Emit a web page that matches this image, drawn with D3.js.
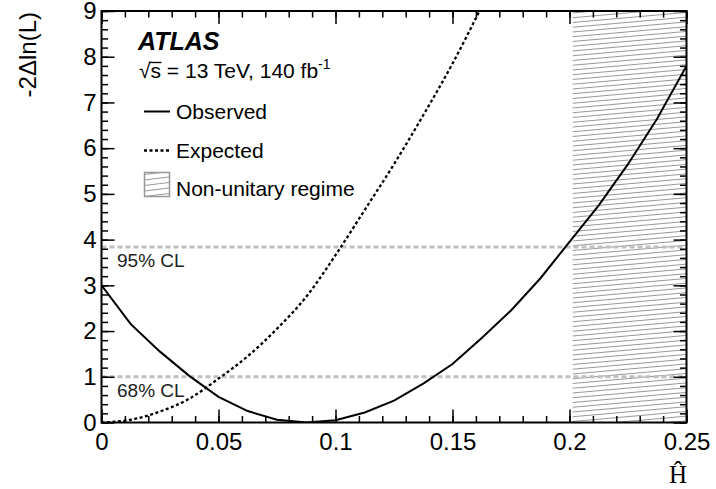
<!DOCTYPE html>
<html>
<head>
<meta charset="utf-8">
<script src="https://cdn.jsdelivr.net/npm/d3@7"></script>
<style>
  body { margin: 0; background: #fff; }
  text { font-family: "Liberation Sans", Arial, sans-serif; }
</style>
</head>
<body>
<script>
// Scan points of the likelihood curves.
var xObserved = [0, 0.0125, 0.025, 0.0375, 0.05, 0.0625, 0.075, 0.0875, 0.1, 0.1125, 0.125,
                 0.1375, 0.15, 0.1625, 0.175, 0.1875, 0.2, 0.2125, 0.225, 0.2375, 0.25];
var yObserved = [3.0, 2.15, 1.55, 1.02, 0.56, 0.25, 0.06, 0.0, 0.05, 0.22, 0.48,
                 0.85, 1.28, 1.85, 2.45, 3.15, 3.95, 4.75, 5.65, 6.65, 7.8];
var xExpected = [0, 0.0125, 0.025, 0.0375, 0.05, 0.0625, 0.075, 0.0875, 0.1, 0.1125, 0.125,
                 0.1375, 0.15, 0.1625];
var yExpected = [0, 0.06, 0.24, 0.52, 0.96, 1.45, 2.05, 2.75, 3.66, 4.65, 5.65,
                 6.72, 7.85, 9.1];
var clLevels = [1, 3.84];
var clLabels = ["68% CL", "95% CL"];
var nonUnitary = [0.2, 0.25];
var xTicks = [0, 0.05, 0.1, 0.15, 0.2, 0.25];
var yTicks = [0, 1, 2, 3, 4, 5, 6, 7, 8, 9];

var W = 716, H = 489;
var margin = {top: 11, right: 29.5, bottom: 66.5, left: 101.5};
var width = W - margin.left - margin.right;
var height = H - margin.top - margin.bottom;

var svg = d3.select("body").append("svg")
    .attr("width", W)
    .attr("height", H);

var defs = svg.append("defs");

defs.append("clipPath").attr("id", "plotclip")
    .append("rect")
    .attr("width", width)
    .attr("height", height);

// Draw shallow hatch lines inside a box (x, y, w, h), clipped to it.
function hatchBox(parent, id, bx, by, bw, bh, step, rise) {
    defs.append("clipPath").attr("id", id)
        .append("rect")
        .attr("x", bx).attr("y", by)
        .attr("width", bw).attr("height", bh);
    var starts = d3.range(by + 2, by + bh + rise + step, step);
    parent.append("g")
        .attr("clip-path", "url(#" + id + ")")
        .selectAll("line")
        .data(starts)
        .join("line")
        .attr("x1", bx).attr("x2", bx + bw)
        .attr("y1", d => d).attr("y2", d => d - rise * bw / 113)
        .attr("stroke", "#8c8c8c")
        .attr("stroke-width", 0.9);
}

var g = svg.append("g")
    .attr("transform", "translate(" + margin.left + "," + margin.top + ")");

var x = d3.scaleLinear().domain([0, 0.25]).range([0, width]);
var y = d3.scaleLinear().domain([0, 9]).range([height, 0]);

// Hatched non-unitary region.
hatchBox(g, "hatchclip", x(nonUnitary[0]) + 3, 0,
         x(nonUnitary[1]) - x(nonUnitary[0]) - 3, height, 4.75, 10);

// Confidence level lines.
g.selectAll(".cl")
    .data(clLevels)
    .join("line")
    .attr("class", "cl")
    .attr("x1", 0)
    .attr("x2", width)
    .attr("y1", d => y(d))
    .attr("y2", d => y(d))
    .attr("stroke", "#c0c0c0")
    .attr("stroke-width", 3)
    .attr("stroke-dasharray", "5,3");

g.selectAll(".cllabel")
    .data(clLevels)
    .join("text")
    .attr("class", "cllabel")
    .attr("x", 15.5)
    .attr("y", d => y(d) + 20)
    .attr("font-size", 19)
    .attr("fill", "#222")
    .text((d, i) => clLabels[i]);

// Curves.
var plot = g.append("g").attr("clip-path", "url(#plotclip)");

var obsLine = d3.line()
    .x(d => x(d[0]))
    .y(d => y(d[1]));

var expLine = d3.line()
    .x(d => x(d[0]))
    .y(d => y(d[1]))
    .curve(d3.curveMonotoneX);

plot.append("path")
    .datum(d3.zip(xExpected, yExpected))
    .attr("d", expLine)
    .attr("fill", "none")
    .attr("stroke", "#000")
    .attr("stroke-width", 2.3)
    .attr("stroke-dasharray", "3,2.5");

plot.append("path")
    .datum(d3.zip(xObserved, yObserved))
    .attr("d", obsLine)
    .attr("fill", "none")
    .attr("stroke", "#000")
    .attr("stroke-width", 2);

// Axes: major and minor ticks on all four sides, pointing inwards.
var xMinor = d3.range(0, 0.2501, 0.01);
var yMinor = d3.range(0, 9.001, 0.2);

function styleAxis(sel) {
    sel.select(".domain").remove();
    sel.selectAll("line").attr("stroke", "#000").attr("stroke-width", 1.5);
    sel.selectAll("text").attr("font-size", 24).attr("fill", "#000")
        .attr("font-family", "Liberation Sans, Arial, sans-serif");
}

g.append("g").attr("transform", "translate(0," + height + ")")
    .call(d3.axisBottom(x).tickValues(xMinor).tickSize(-6.5).tickFormat(""))
    .call(styleAxis);
g.append("g").attr("transform", "translate(0," + height + ")")
    .call(d3.axisBottom(x).tickValues(xTicks).tickSize(-13).tickPadding(10)
        .tickFormat(d3.format("~g")))
    .call(styleAxis);

g.append("g")
    .call(d3.axisTop(x).tickValues(xMinor).tickSize(-6.5).tickFormat(""))
    .call(styleAxis);
g.append("g")
    .call(d3.axisTop(x).tickValues(xTicks).tickSize(-13).tickFormat(""))
    .call(styleAxis);

g.append("g")
    .call(d3.axisLeft(y).tickValues(yMinor).tickSize(-6.5).tickFormat(""))
    .call(styleAxis);
g.append("g")
    .call(d3.axisLeft(y).tickValues(yTicks).tickSize(-13).tickPadding(5)
        .tickFormat(d3.format("d")))
    .call(styleAxis);

g.append("g").attr("transform", "translate(" + width + ",0)")
    .call(d3.axisRight(y).tickValues(yMinor).tickSize(-6.5).tickFormat(""))
    .call(styleAxis);
g.append("g").attr("transform", "translate(" + width + ",0)")
    .call(d3.axisRight(y).tickValues(yTicks).tickSize(-13).tickFormat(""))
    .call(styleAxis);

// Frame.
g.append("rect")
    .attr("width", width)
    .attr("height", height)
    .attr("fill", "none")
    .attr("stroke", "#000")
    .attr("stroke-width", 2);

// Axis titles.
svg.append("text")
    .attr("transform", "translate(36,12) rotate(-90)")
    .attr("text-anchor", "end")
    .attr("font-size", 24)
    .text("-2\u0394ln(L)");

svg.append("text")
    .attr("x", 687)
    .attr("y", 483)
    .attr("text-anchor", "end")
    .attr("font-size", 25)
    .style("font-family", "'Liberation Serif', 'Times New Roman', serif")
    .text("\u0124");

// ATLAS label and energy / luminosity.
svg.append("text")
    .attr("x", 138)
    .attr("y", 50)
    .attr("font-size", 25)
    .attr("font-weight", "bold")
    .attr("font-style", "italic")
    .text("ATLAS");

var lumi = svg.append("text")
    .attr("x", 139)
    .attr("y", 78)
    .attr("font-size", 21);
lumi.append("tspan").text("\u221A");
lumi.append("tspan").attr("class", "sqrts").text("s");
lumi.append("tspan").text(" = 13 TeV, 140 fb");
lumi.append("tspan").attr("dy", -9).attr("font-size", 14).text("-1");

// Overbar of the square root over the s.
var sNode = lumi.select(".sqrts").node();
var sStart = sNode.getStartPositionOfChar(0).x;
var sEnd = sNode.getEndPositionOfChar(0).x;
svg.append("line")
    .attr("x1", sStart - 1).attr("x2", sEnd + 0.5)
    .attr("y1", 62.5).attr("y2", 62.5)
    .attr("stroke", "#000")
    .attr("stroke-width", 1.3);

// Legend.
var legend = svg.append("g").attr("transform", "translate(144,0)");

legend.append("line")
    .attr("x1", 0).attr("x2", 26)
    .attr("y1", 111.5).attr("y2", 111.5)
    .attr("stroke", "#000").attr("stroke-width", 2);
legend.append("text").attr("x", 32).attr("y", 119).attr("font-size", 21).text("Observed");

legend.append("line")
    .attr("x1", 0).attr("x2", 26)
    .attr("y1", 150.5).attr("y2", 150.5)
    .attr("stroke", "#000").attr("stroke-width", 2.3)
    .attr("stroke-dasharray", "3,2.5");
legend.append("text").attr("x", 32).attr("y", 158).attr("font-size", 21).text("Expected");

hatchBox(legend, "legclip", 0.5, 172.5, 25, 24, 5.5, 14);
legend.append("rect")
    .attr("x", 0.5).attr("y", 172.5)
    .attr("width", 25).attr("height", 24)
    .attr("fill", "none")
    .attr("stroke", "#999").attr("stroke-width", 1.5);
legend.append("text").attr("x", 32).attr("y", 196).attr("font-size", 21).text("Non-unitary regime");
</script>
</body>
</html>
